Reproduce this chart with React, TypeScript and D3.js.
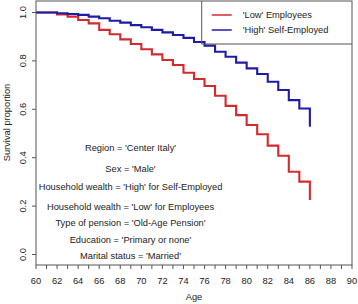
import React from "react";
import * as d3 from "d3";

const ages = [60,61,62,63,64,65,66,67,68,69,70,71,72,73,74,75,76,77,78,79,80,81,82,83,84,85,86];
const lowEmployees = [1.0,1.0,0.992,0.983,0.969,0.955,0.928,0.91,0.889,0.87,0.848,0.827,0.804,0.783,0.751,0.725,0.696,0.656,0.614,0.576,0.535,0.497,0.45,0.408,0.342,0.301,0.225];
const highSelfEmployed = [1.0,1.0,0.997,0.994,0.99,0.983,0.976,0.966,0.958,0.948,0.939,0.928,0.918,0.907,0.895,0.878,0.863,0.838,0.817,0.793,0.769,0.746,0.714,0.68,0.638,0.603,0.528];
const xTicks = d3.range(60, 91, 1);
const xLabels = d3.range(60, 91, 2);
const yTicks = [0, 0.2, 0.4, 0.6, 0.8, 1.0];
const seriesNames = ["'Low' Employees", "'High' Self-Employed"];
const seriesColors = ["#d42a2e", "#1c1ca6"];
const notes = [
  "Region = 'Center Italy'",
  "Sex = 'Male'",
  "Household wealth = 'High' for Self-Employed",
  "Household wealth = 'Low' for Employees",
  "Type of pension = 'Old-Age Pension'",
  "Education = 'Primary or none'",
  "Marital status = 'Married'",
];
const noteY = [0.439, 0.352, 0.277, 0.197, 0.131, 0.06, -0.006];

export default function App() {
  const W = 358, H = 304;
  const left = 36, right = 352, top = 1, bottom = 265;
  const x = d3.scaleLinear().domain([60, 90]).range([left, right]);
  const y = d3.scaleLinear().domain([0, 1]).range([254.5, 12.5]);
  const line = d3.line<[number, number]>().x(d => x(d[0])).y(d => y(d[1])).curve(d3.curveStepAfter);
  const series = [lowEmployees, highSelfEmployed];
  const font = "'Liberation Sans', Arial, sans-serif";
  const axisColor = "#555";
  const textColor = "#222";
  const fs = 9.3;
  const legX = 201.7;
  const legBottom = 44;
  return (
    <svg width={W} height={H} style={{ position: "absolute", left: 0, top: 0, background: "#fff", fontFamily: font }}>
      <rect x={0} y={0} width={W} height={H} fill="#fff" />
      {series.map((s, i) => (
        <path key={i} d={line(ages.map((a, j) => [a, s[j]] as [number, number])) || ""} fill="none" stroke={seriesColors[i]} strokeWidth={2.1} />
      ))}
      <rect x={left} y={top} width={right - left} height={bottom - top} fill="none" stroke={axisColor} strokeWidth={1} />
      {/* legend */}
      <path d={`M${legX},${top} V${legBottom} H${right}`} fill="none" stroke={axisColor} strokeWidth={1} />
      {seriesNames.map((n, i) => (
        <g key={n}>
          <line x1={211.7} x2={231.7} y1={15 + i * 15} y2={15 + i * 15} stroke={seriesColors[i]} strokeWidth={1.5} />
          <text x={242.7} y={15 + i * 15} dominantBaseline="central" fontSize={fs} fill={textColor}>{n}</text>
        </g>
      ))}
      {/* x axis */}
      {xTicks.map(t => (
        <line key={t} x1={x(t)} x2={x(t)} y1={bottom} y2={bottom + 4} stroke={axisColor} />
      ))}
      {xLabels.map(t => (
        <text key={t} x={x(t)} y={280.7} textAnchor="middle" dominantBaseline="central" fontSize={fs} fill={textColor}>{t}</text>
      ))}
      <text x={(left + right) / 2} y={297} textAnchor="middle" dominantBaseline="central" fontSize={fs} fill={textColor}>Age</text>
      {/* y axis */}
      {yTicks.map(t => (
        <g key={t}>
          <line x1={left - 4} x2={left} y1={y(t)} y2={y(t)} stroke={axisColor} />
          <text transform={`translate(${22.7},${y(t)}) rotate(-90)`} textAnchor="middle" dominantBaseline="central" fontSize={fs} fill={textColor}>{t.toFixed(1)}</text>
        </g>
      ))}
      <text transform={`translate(7.3,122.5) rotate(-90)`} textAnchor="middle" dominantBaseline="central" fontSize={fs} fill={textColor}>Survival proportion</text>
      {/* notes */}
      {notes.map((n, i) => (
        <text key={n} x={130.5} y={y(noteY[i])} textAnchor="middle" dominantBaseline="central" fontSize={fs} fill={textColor}>{n}</text>
      ))}
    </svg>
  );
}
